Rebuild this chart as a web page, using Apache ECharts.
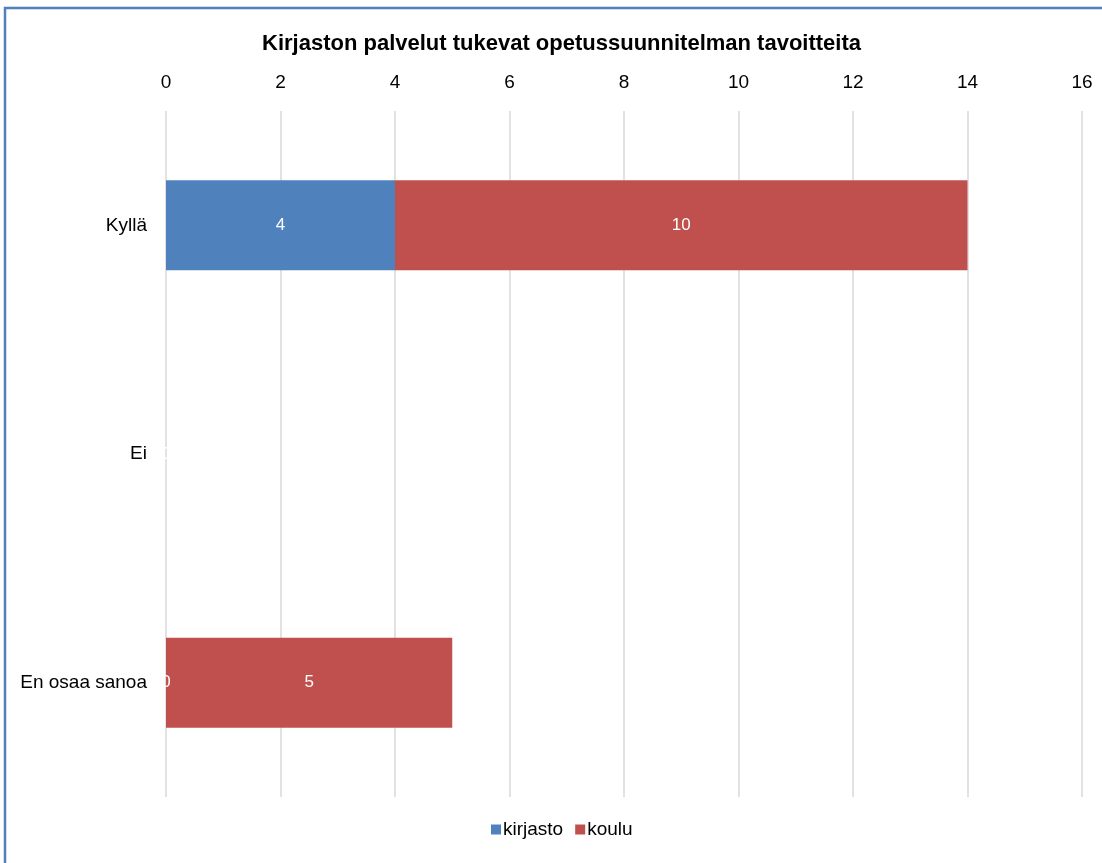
<!DOCTYPE html>
<html>
<head>
<meta charset="utf-8">
<script src="https://cdn.jsdelivr.net/npm/echarts@6/dist/echarts.min.js"></script>
<style>
html, body { margin: 0; padding: 0; background: #fff; }
#chart { width: 1102px; height: 863px; }
</style>
</head>
<body>
<div id="chart"></div>
<script>
const categories = ['Kyllä', 'Ei', 'En osaa sanoa']
const kirjasto = [4, 0, 0]
const koulu = [10, 0, 5]

let font = 'Liberation Sans Narrow, Liberation Sans, Arial'
let chart = echarts.init(document.getElementById('chart'))
let labelStyle = {
  show: true,
  position: 'inside',
  color: '#fff',
  fontSize: 17,
  fontFamily: font
}
let option = {
  animation: false,
  backgroundColor: '#fff',
  title: {
    text: 'Kirjaston palvelut tukevat opetussuunnitelman tavoitteita',
    left: 257,
    top: 28,
    textStyle: {
      fontSize: 22,
      fontWeight: 'bold',
      color: '#000',
      fontFamily: font
    }
  },
  graphic: [
    {
      type: 'rect',
      shape: { x: 5, y: 8, width: 1120, height: 880 },
      style: { fill: 'none', stroke: '#4f81bd', lineWidth: 2.5 },
      silent: true
    }
  ],
  legend: {
    bottom: 19,
    left: 486,
    itemWidth: 10,
    itemHeight: 10,
    itemGap: 12,
    icon: 'rect',
    textStyle: {
      fontSize: 19,
      color: '#000',
      padding: [0, 0, 0, -3],
      fontFamily: font
    },
    data: ['kirjasto', 'koulu']
  },
  grid: {
    left: 166,
    right: 20,
    top: 111,
    bottom: 66,
    containLabel: false
  },
  xAxis: {
    type: 'value',
    position: 'top',
    min: 0,
    max: 16,
    interval: 2,
    axisLine: { show: false },
    axisTick: { show: false },
    axisLabel: {
      margin: 19,
      fontSize: 19,
      color: '#000',
      fontFamily: font
    },
    splitLine: { lineStyle: { color: '#d9d9d9', width: 1.5 } }
  },
  yAxis: {
    type: 'category',
    inverse: true,
    data: categories,
    axisLine: { show: false },
    axisTick: { show: false },
    axisLabel: {
      margin: 19,
      fontSize: 19,
      color: '#000',
      fontFamily: font
    }
  },
  series: [
    {
      name: 'kirjasto',
      type: 'bar',
      stack: 'total',
      barWidth: 90,
      data: kirjasto,
      itemStyle: { color: '#4f81bd' },
      label: labelStyle
    },
    {
      name: 'koulu',
      type: 'bar',
      stack: 'total',
      barWidth: 90,
      data: koulu,
      itemStyle: { color: '#c0504d' },
      label: labelStyle
    }
  ]
}
chart.setOption(option)
</script>
</body>
</html>
